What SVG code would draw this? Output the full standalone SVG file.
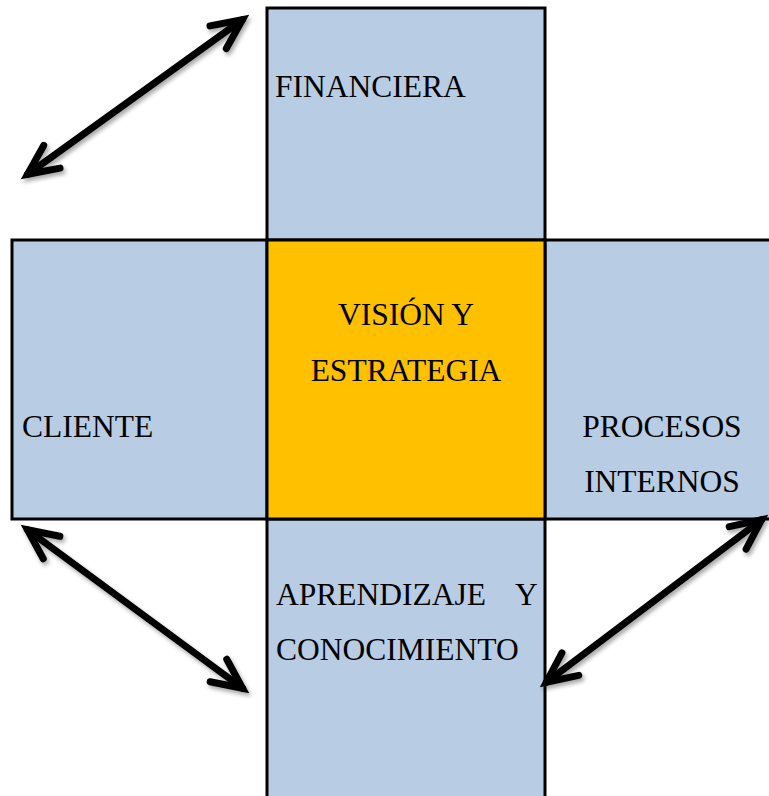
<svg xmlns="http://www.w3.org/2000/svg" width="769" height="796" viewBox="0 0 769 796">
<style>
.box{fill:#B8CCE4;stroke:#000;stroke-width:3}
.core{fill:#FFC000;stroke:#000;stroke-width:3}
.lbl{font-family:"Liberation Serif","Times New Roman",serif;font-size:31.5px;fill:#000}
.arrow{stroke:#000;stroke-width:7;stroke-linecap:round;fill:none}
</style>
<defs>
<marker id="head" markerUnits="userSpaceOnUse" markerWidth="60" markerHeight="60" viewBox="-40 -30 60 60" refX="0" refY="0" orient="auto-start-reverse" overflow="visible">
<path d="M-30,-14 L0,0 L-30,14" fill="none" stroke="#000" stroke-width="7" stroke-linejoin="miter" stroke-miterlimit="10" stroke-linecap="round"/>
</marker>
<filter id="shadow" x="-20%" y="-20%" width="140%" height="140%">
<feDropShadow dx="2" dy="3" stdDeviation="2" flood-color="#000" flood-opacity="0.35"/>
</filter>
</defs>
<rect width="769" height="796" fill="#fff"/>
<g id="financiera">
<rect class="box" x="267" y="8" width="278" height="232"/>
<text class="lbl" x="275" y="97">FINANCIERA</text>
</g>
<g id="cliente">
<rect class="box" x="12" y="240" width="255" height="279"/>
<text class="lbl" x="22" y="437">CLIENTE</text>
</g>
<g id="procesos">
<rect class="box" x="545" y="240" width="240" height="279"/>
<text class="lbl" x="662" y="437" text-anchor="middle">PROCESOS</text>
<text class="lbl" x="662" y="492" text-anchor="middle">INTERNOS</text>
</g>
<g id="aprendizaje">
<rect class="box" x="267" y="519" width="278" height="300"/>
<text class="lbl" x="276" y="605">APRENDIZAJE</text>
<text class="lbl" x="515" y="605">Y</text>
<text class="lbl" x="276" y="660">CONOCIMIENTO</text>
</g>
<g id="vision">
<rect class="core" x="267" y="240" width="278" height="279"/>
<text class="lbl" x="406" y="325" text-anchor="middle">VISIÓN Y</text>
<text class="lbl" x="406" y="381" text-anchor="middle">ESTRATEGIA</text>
</g>
<g id="connectors" filter="url(#shadow)">
<path class="arrow" d="M242.5,19.7 L27.5,174.3" marker-start="url(#head)" marker-end="url(#head)"/>
<path class="arrow" d="M27.4,529.7 L242.6,688.3" marker-start="url(#head)" marker-end="url(#head)"/>
<path class="arrow" d="M761.6,519.8 L546.4,682.2" marker-start="url(#head)" marker-end="url(#head)"/>
</g>
</svg>
